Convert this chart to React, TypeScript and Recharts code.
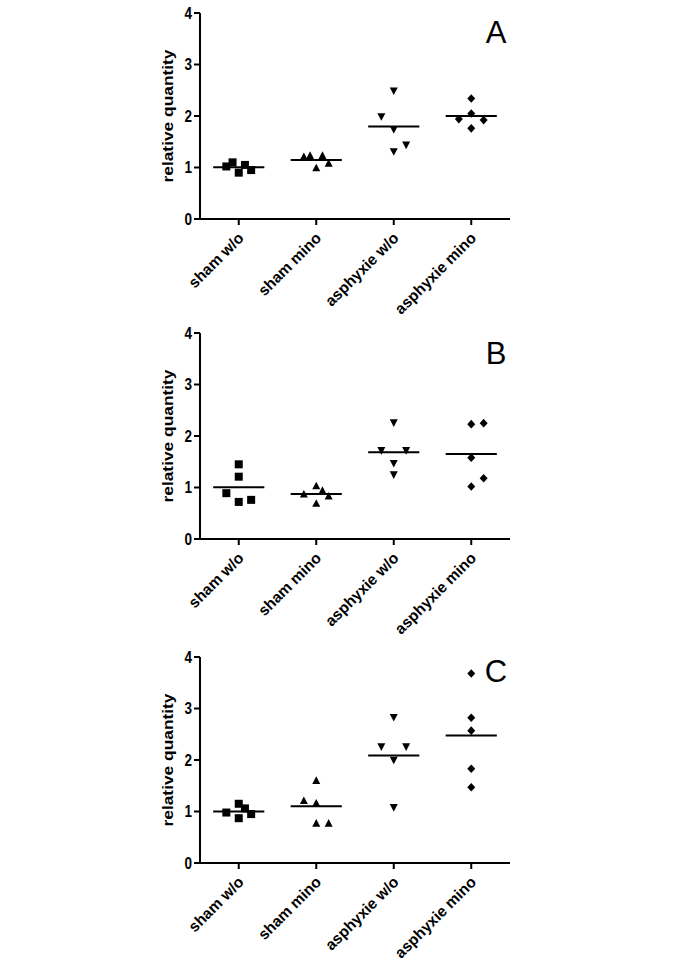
import React from 'react';
import { ScatterChart, Scatter, XAxis, YAxis, ReferenceLine } from 'recharts';

const categories = ['sham w/o', 'sham mino', 'asphyxie w/o', 'asphyxie mino'];
const yTicks = [0, 1, 2, 3, 4];
const xTicks = [1, 2, 3, 4];
const panelLabels = ['A', 'B', 'C'];

// Panel A
const aShamWo = [1.02, 1.1, 0.9, 1.05, 0.95];
const aShamWoJitter = [-0.16, -0.08, 0, 0.08, 0.16];
const aShamMino = [1.21, 1.23, 0.99, 1.23, 1.08];
const aShamMinoJitter = [-0.16, -0.08, 0, 0.08, 0.16];
const aAsphWo = [1.99, 2.49, 1.74, 1.31, 1.44];
const aAsphWoJitter = [-0.16, 0, 0, 0, 0.16];
const aAsphMino = [1.94, 2.34, 2.05, 1.76, 1.92];
const aAsphMinoJitter = [-0.16, 0, 0, 0, 0.16];

// Panel B
const bShamWo = [1.45, 1.21, 0.89, 0.72, 0.76];
const bShamWoJitter = [0, 0, -0.16, 0, 0.16];
const bShamMino = [0.87, 1.03, 0.94, 0.83, 0.69];
const bShamMinoJitter = [-0.16, 0, 0.08, 0.16, 0];
const bAsphWo = [2.26, 1.72, 1.47, 1.72, 1.25];
const bAsphWoJitter = [0, -0.16, 0, 0.16, 0];
const bAsphMino = [2.23, 2.25, 1.58, 1.02, 1.18];
const bAsphMinoJitter = [0, 0.16, 0, 0, 0.16];

// Panel C
const cShamWo = [0.98, 1.15, 1.06, 0.87, 0.95];
const cShamWoJitter = [-0.16, 0, 0.08, 0, 0.16];
const cShamMino = [1.6, 1.21, 1.16, 0.77, 0.77];
const cShamMinoJitter = [0, -0.16, 0, 0, 0.16];
const cAsphWo = [2.83, 2.26, 2.26, 2.0, 1.08];
const cAsphWoJitter = [0, -0.16, 0.16, 0, 0];
const cAsphMino = [3.68, 2.82, 2.57, 1.83, 1.47];
const cAsphMinoJitter = [0, 0, 0, 0, 0];

const panels = [
  { label: panelLabels[0], groups: [aShamWo, aShamMino, aAsphWo, aAsphMino], jitter: [aShamWoJitter, aShamMinoJitter, aAsphWoJitter, aAsphMinoJitter], top: 0, letterY: 43 },
  { label: panelLabels[1], groups: [bShamWo, bShamMino, bAsphWo, bAsphMino], jitter: [bShamWoJitter, bShamMinoJitter, bAsphWoJitter, bAsphMinoJitter], top: 320, letterY: 44 },
  { label: panelLabels[2], groups: [cShamWo, cShamMino, cAsphWo, cAsphMino], jitter: [cShamWoJitter, cShamMinoJitter, cAsphWoJitter, cAsphMinoJitter], top: 644, letterY: 38 },
];

const FONT = '"Liberation Sans", Arial, Helvetica, sans-serif';

const SquareShape = (p: any) => <rect x={p.cx - 4} y={p.cy - 4} width={8} height={8} fill="#000" />;
const TriUpShape = (p: any) => (
  <path d={`M${p.cx},${p.cy - 4.3}L${p.cx + 4},${p.cy + 3.3}L${p.cx - 4},${p.cy + 3.3}Z`} fill="#000" />
);
const TriDownShape = (p: any) => (
  <path d={`M${p.cx},${p.cy + 4.3}L${p.cx + 4},${p.cy - 3.3}L${p.cx - 4},${p.cy - 3.3}Z`} fill="#000" />
);
const DiamondShape = (p: any) => (
  <path d={`M${p.cx},${p.cy - 4.3}L${p.cx + 4},${p.cy}L${p.cx},${p.cy + 4.3}L${p.cx - 4},${p.cy}Z`} fill="#000" />
);
const shapes = [SquareShape, TriUpShape, TriDownShape, DiamondShape];

const XTick = (props: any) => {
  const { x, y, payload } = props;
  const label = categories[Math.round(payload.value) - 1];
  return (
    <g transform={`translate(${x + 6},${y + 12}) rotate(-45)`}>
      <text textAnchor="end" fontFamily={FONT} fontWeight="bold" fontSize={15.5} fill="#000">
        {label}
      </text>
    </g>
  );
};

const YTick = (props: any) => {
  const { x, y, payload } = props;
  return (
    <g transform={`translate(${x},${y}) scale(1,1.2)`}>
      <text textAnchor="end" dy="0.36em" fontFamily={FONT} fontWeight="bold" fontSize={13.5} fill="#000">
        {payload.value}
      </text>
    </g>
  );
};

const YLabelContent = (props: any) => {
  const vb = props.viewBox || { x: 0, y: 13, width: 200, height: 206 };
  const cx = vb.x + vb.width - 27;
  const cy = vb.y + vb.height / 2;
  return (
    <text
      x={cx}
      y={cy}
      transform={`rotate(-90, ${cx}, ${cy})`}
      textAnchor="middle"
      fontFamily={FONT}
      fontWeight="bold"
      fontSize={15.5}
      textLength={133}
      lengthAdjust="spacingAndGlyphs"
      fill="#000"
    >
      relative quantity
    </text>
  );
};

const mean = (arr: number[]) => arr.reduce((s, v) => s + v, 0) / arr.length;

const Panel = ({ panel }: { panel: typeof panels[number] }) => (
  <div style={{ position: 'absolute', left: 0, top: panel.top, width: 685, height: 321 }}>
    <ScatterChart width={685} height={321} margin={{ top: 13, right: 175, bottom: 0, left: 0 }}>
      <XAxis
        type="number"
        dataKey="x"
        domain={[0.5, 4.5]}
        ticks={xTicks}
        allowDataOverflow
        height={102}
        tickSize={6}
        axisLine={{ stroke: '#000', strokeWidth: 2 }}
        tickLine={{ stroke: '#000', strokeWidth: 2 }}
        tick={<XTick />}
        interval={0}
      />
      <YAxis
        type="number"
        dataKey="y"
        domain={[0, 4]}
        ticks={yTicks}
        allowDataOverflow
        width={200}
        tickSize={6}
        axisLine={{ stroke: '#000', strokeWidth: 2 }}
        tickLine={{ stroke: '#000', strokeWidth: 2 }}
        tick={<YTick />}
        interval={0}
        label={{ content: YLabelContent }}
      />
      {panel.groups.map((vals, gi) => (
        <Scatter
          key={`s${gi}`}
          data={vals.map((v, i) => ({ x: gi + 1 + panel.jitter[gi][i], y: v }))}
          shape={shapes[gi]}
          fill="#000"
          isAnimationActive={false}
        />
      ))}
      {panel.groups.map((vals, gi) => (
        <ReferenceLine
          key={`m${gi}`}
          segment={[
            { x: gi + 1 - 0.33, y: mean(vals) },
            { x: gi + 1 + 0.33, y: mean(vals) },
          ]}
          stroke="#000"
          strokeWidth={2}
          ifOverflow="visible"
        />
      ))}
      <text x={496} y={panel.letterY} textAnchor="middle" fontFamily={FONT} fontSize={31} fill="#000">
        {panel.label}
      </text>
    </ScatterChart>
  </div>
);

export default function App() {
  return (
    <div style={{ position: 'absolute', left: 0, top: 0, width: 685, height: 969, background: '#fff' }}>
      {panels.map((p) => (
        <Panel key={p.label} panel={p} />
      ))}
    </div>
  );
}
